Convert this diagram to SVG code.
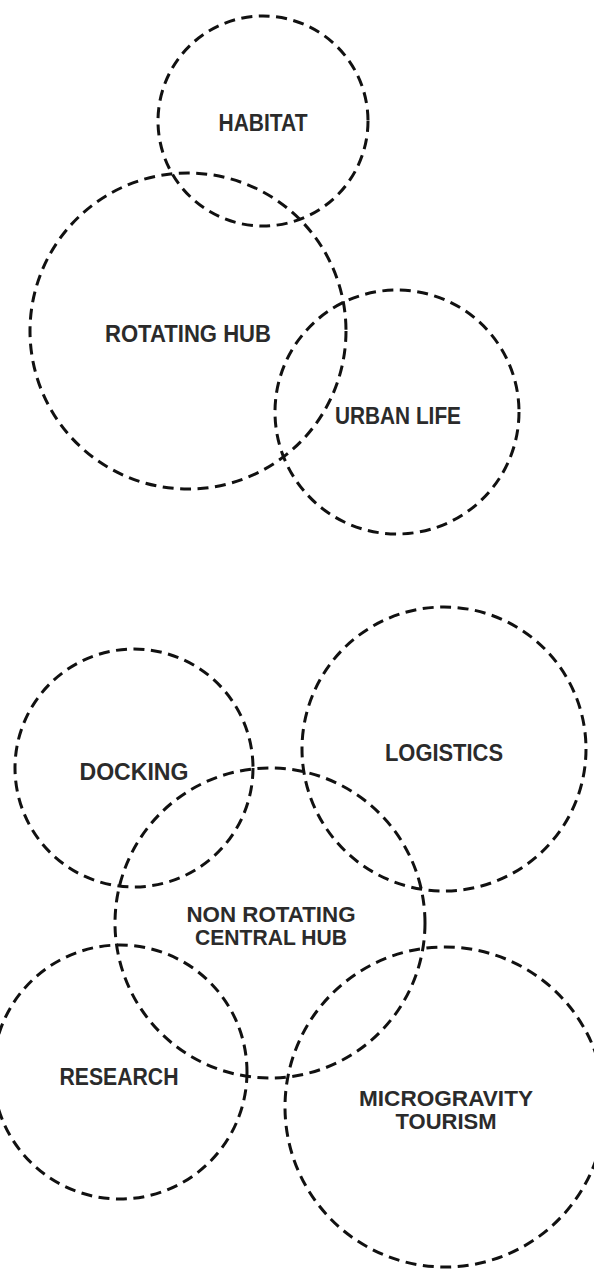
<svg xmlns="http://www.w3.org/2000/svg" width="594" height="1272" viewBox="0 0 594 1272">
<style>
.c{fill:none;stroke:#111;stroke-width:3;stroke-dasharray:11 6.5}
.t{font-family:"Liberation Sans",Arial,sans-serif;font-weight:700;font-size:23px;fill:#2b2b2b;text-anchor:middle}
.s{font-size:22.5px}
</style>
<rect width="594" height="1272" fill="#fff"/>
<g id="habitat"><circle class="c" cx="263" cy="121" r="105"/><text class="t" x="263" y="130.5" textLength="89" lengthAdjust="spacingAndGlyphs">HABITAT</text></g>
<g id="rotating-hub"><circle class="c" cx="188" cy="331" r="158"/><text class="t" x="188" y="341.5" textLength="166" lengthAdjust="spacingAndGlyphs">ROTATING HUB</text></g>
<g id="urban-life"><circle class="c" cx="397" cy="412" r="122"/><text class="t" x="398" y="423.5" textLength="126" lengthAdjust="spacingAndGlyphs">URBAN LIFE</text></g>
<g id="docking"><circle class="c" cx="134" cy="768" r="119"/><text class="t" x="134" y="779.5" textLength="109" lengthAdjust="spacingAndGlyphs">DOCKING</text></g>
<g id="logistics"><circle class="c" cx="444" cy="749" r="142"/><text class="t" x="444" y="760.5" textLength="118" lengthAdjust="spacingAndGlyphs">LOGISTICS</text></g>
<g id="central-hub"><circle class="c" cx="270" cy="923" r="155"/><text class="t s"><tspan x="271" y="922" textLength="169" lengthAdjust="spacingAndGlyphs">NON ROTATING</tspan><tspan x="271" y="945" textLength="152" lengthAdjust="spacingAndGlyphs">CENTRAL HUB</tspan></text></g>
<g id="research"><circle class="c" cx="120" cy="1072" r="127"/><text class="t" x="119" y="1084.5" textLength="119" lengthAdjust="spacingAndGlyphs">RESEARCH</text></g>
<g id="microgravity-tourism"><circle class="c" cx="445" cy="1107" r="160"/><text class="t s"><tspan x="446" y="1106" textLength="174" lengthAdjust="spacingAndGlyphs">MICROGRAVITY</tspan><tspan x="446" y="1129" textLength="101" lengthAdjust="spacingAndGlyphs">TOURISM</tspan></text></g>
<g id="connectors"/>
</svg>
